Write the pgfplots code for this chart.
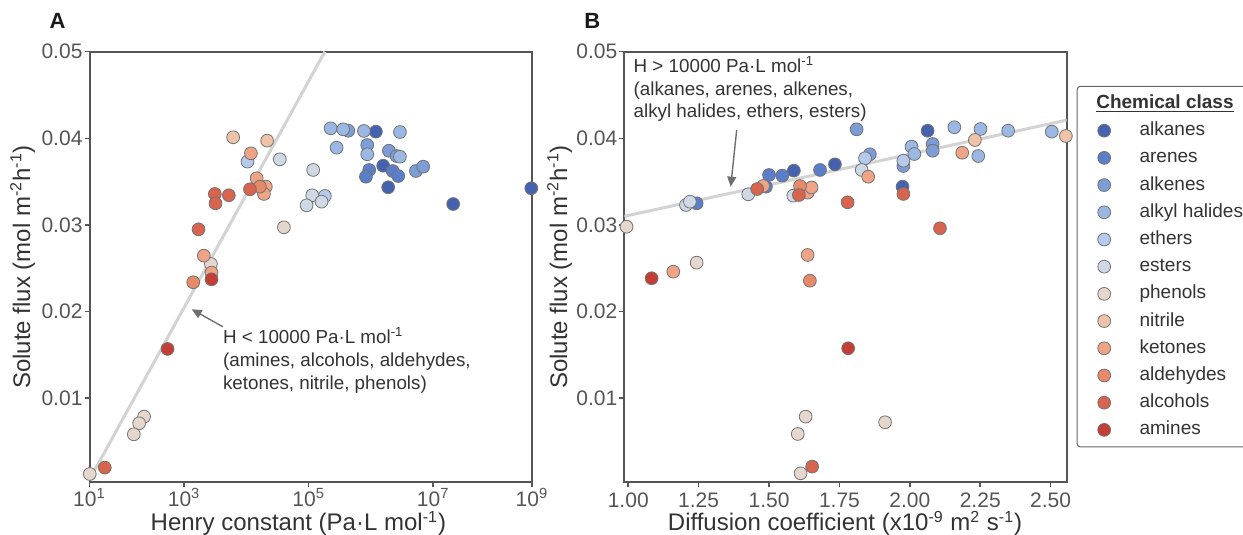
\documentclass[border=0pt]{standalone}
\usepackage{fontspec}
\setmainfont{Liberation Sans}
\usepackage{pgfplots}
\pgfplotsset{compat=1.18}
\usetikzlibrary{arrows.meta}

\definecolor{cAlkanes}{HTML}{4562B0}
\definecolor{cArenes}{HTML}{5B7ECA}
\definecolor{cAlkenes}{HTML}{7C9DD6}
\definecolor{cAlkyl}{HTML}{9AB8E3}
\definecolor{cEthers}{HTML}{B5CAEC}
\definecolor{cEsters}{HTML}{CFD8E5}
\definecolor{cPhenols}{HTML}{E5D7CD}
\definecolor{cNitrile}{HTML}{EFC3AA}
\definecolor{cKetones}{HTML}{EFA486}
\definecolor{cAldehydes}{HTML}{E78A6A}
\definecolor{cAlcohols}{HTML}{D9644E}
\definecolor{cAmines}{HTML}{C43E36}
\definecolor{axisgray}{HTML}{555555}
\definecolor{textgray}{HTML}{333333}
\definecolor{tickgray}{HTML}{555555}
\definecolor{fitgray}{HTML}{D3D3D3}
\definecolor{arrowgray}{HTML}{6E6E6E}

\tikzset{
  ann/.style={font=\fontsize{9.4}{11.3}\selectfont, text=textgray, inner sep=0pt, anchor=base west},
  panelletter/.style={font=\fontsize{11}{13}\selectfont\bfseries, text=black!90, anchor=center},
}
\pgfplotsset{
  panel/.style={
    scale only axis, height=215.3pt,
    axis line style={axisgray, line width=1pt},
    tick style={axisgray, line width=0.8pt},
    tick align=outside, major tick length=2.5pt,
    xtick pos=bottom, ytick pos=left,
    ymin=0.0003, ymax=0.05,
    scaled y ticks=false, scaled x ticks=false,
    ytick={0.01,0.02,0.03,0.04,0.05},
    yticklabels={0.01,0.02,0.03,0.04,0.05},
    tick label style={font=\fontsize{10.5}{12}\selectfont, text=tickgray},
    yticklabel style={xshift=2.5pt},
    label style={font=\fontsize{12}{14}\selectfont, text=textgray},
    /pgf/number format/assume math mode=true,
    clip=true,
  },
  cls/.style={only marks, mark=*, mark size=3.2pt, color=#1,
    mark options={fill=#1, draw=black!55, line width=0.4pt}},
  fit/.style={no marks, fitgray, line width=1.5pt},
}

\begin{document}
\begin{tikzpicture}

% ---------------- Panel A ----------------
\begin{axis}[panel,
  at={(44.75pt,26.35pt)}, anchor=south west, width=221.25pt,
  xmode=log, xmin=30.2, xmax=3.855e8,
  xtick={30.2,1e3,1e5,1e7,3.855e8},
  xticklabels={10\textsuperscript{1},10\textsuperscript{3},10\textsuperscript{5},10\textsuperscript{7},10\textsuperscript{9}},
  xticklabel style={yshift=3pt, text depth=0pt},
  xlabel={Henry constant (Pa·L mol\textsuperscript{-1})},
  ylabel={Solute flux (mol m\textsuperscript{-2}h\textsuperscript{-1})},
  xlabel style={at={(axis description cs:0.472,-0.0899)}, anchor=center, inner ysep=0pt, yshift=-1.2pt},
  ylabel style={at={(axis description cs:-0.151,0.5)}, anchor=center},
  extra description/.code={\node[panelletter] at (axis description cs:-0.0723,1.0725) {A};},
]
\addplot[fit] coordinates {(30.2,0.00061) (1.815e5,0.05)};

\addplot[cls=cAlkanes] coordinates {(1.20e6,0.04077) (1.57e6,0.03684) (1.89e6,0.03435) (2.09e7,0.03242) (3.75e8,0.03424)};
\addplot[cls=cArenes] coordinates {(9.38e5,0.03635) (2.23e6,0.03623) (2.74e6,0.03565) (8.30e5,0.03557)};
\addplot[cls=cAlkenes] coordinates {(4.32e5,0.04088) (8.71e5,0.03923) (1.94e6,0.03857) (2.58e6,0.03796) (5.27e6,0.03623) (6.90e6,0.03673)};
\addplot[cls=cAlkyl] coordinates {(2.25e5,0.04116) (3.58e5,0.04104) (7.71e5,0.04085) (2.92e6,0.04073) (2.81e5,0.03892) (8.71e5,0.03816) (2.92e6,0.03788)};
\addplot[cls=cEthers] coordinates {(1.04e4,0.03731) (1.82e5,0.03335)};
\addplot[cls=cEsters] coordinates {(3.44e4,0.03758) (1.18e5,0.03635) (1.14e5,0.03343) (9.25e4,0.03227) (1.61e5,0.03269)};
\addplot[cls=cPhenols] coordinates {(4.00e4,0.02973) (2.69e3,0.02550) (227.5,0.00788) (189.2,0.00711) (155.6,0.00584) (30.5,0.00126)};
\addplot[cls=cNitrile] coordinates {(6.12e3,0.04012) (2.15e4,0.03973)};
\addplot[cls=cKetones] coordinates {(1.18e4,0.03827) (1.46e4,0.03539) (2.05e4,0.03442) (1.91e4,0.03358) (2.07e3,0.02646) (2.75e3,0.02450)};
\addplot[cls=cAldehydes] coordinates {(1.64e4,0.03442) (1.40e3,0.02339)};
\addplot[cls=cAlcohols] coordinates {(1.14e4,0.03412) (3.11e3,0.03358) (5.22e3,0.03343) (3.19e3,0.03250) (1.70e3,0.02950) (53.2,0.00199)};
\addplot[cls=cAmines] coordinates {(2.75e3,0.02373) (541,0.01569)};

\draw[arrowgray, line width=0.7pt, -{Triangle[length=5pt,width=4.5pt]}]
  (axis description cs:0.301,0.3614) -- (axis description cs:0.231,0.4018);
\node[ann] at (axis description cs:0.301,0.3212) {H < 10000 Pa·L mol\textsuperscript{-1}};
\node[ann] at (axis description cs:0.301,0.2684) {(amines, alcohols, aldehydes,};
\node[ann] at (axis description cs:0.301,0.2159) {ketones, nitrile, phenols)};
\end{axis}

% ---------------- Panel B ----------------
\begin{axis}[panel,
  at={(312.15pt,26.35pt)}, anchor=south west, width=221.2pt,
  xmin=0.986, xmax=2.557,
  xtick={1,1.25,1.5,1.75,2,2.25,2.5},
  xticklabels={1.00,1.25,1.50,1.75,2.00,2.25,2.50},
  xticklabel style={yshift=0.8pt, text depth=0pt},
  xlabel={Diffusion coefficient (x10\textsuperscript{-9} m\textsuperscript{2} s\textsuperscript{-1})},
  ylabel={Solute flux (mol m\textsuperscript{-2}h\textsuperscript{-1})},
  xlabel style={at={(axis description cs:0.499,-0.0899)}, anchor=center, inner ysep=0pt, yshift=-1.2pt},
  ylabel style={at={(axis description cs:-0.146,0.5)}, anchor=center},
  extra description/.code={\node[panelletter] at (axis description cs:-0.0723,1.0725) {B};},
  legend image code/.code={\draw[#1, /tikz/every mark/.append style={draw=none}] plot coordinates {(0pt,0pt)};},
  legend cell align=left,
  legend style={at={(axis description cs:1.0226,0.9204)}, anchor=north west,
    draw=black!60, line width=0.5pt, rounded corners=1.5pt,
    inner xsep=10.3pt, inner ysep=4pt,
    font=\fontsize{9.5}{11}\selectfont, text=textgray,
    row sep=4.6pt, column sep=12.5pt,
    nodes={inner xsep=2pt, inner ysep=0pt, text height=7pt, text depth=2pt}},
]
\addlegendimage{empty legend}
\addlegendentry{\hspace*{-21.65pt}\textbf{\underline{Chemical class}}}

\addplot[fit, forget plot] coordinates {(0.986,0.0310) (2.557,0.0421)};

\addplot[cls=cAlkanes] coordinates {(2.063,0.04088) (1.974,0.03442) (1.734,0.03700) (1.588,0.03627)};
\addlegendentry{alkanes}
\addplot[cls=cArenes] coordinates {(1.243,0.03250) (1.489,0.03442) (1.500,0.03577) (1.547,0.03569) (1.681,0.03635)};
\addlegendentry{arenes}
\addplot[cls=cAlkenes] coordinates {(1.811,0.04104) (1.858,0.03816) (2.081,0.03935) (2.081,0.03857) (1.977,0.03681)};
\addlegendentry{alkenes}
\addplot[cls=cAlkyl] coordinates {(2.158,0.04128) (2.251,0.04108) (2.349,0.04088) (2.504,0.04077) (2.243,0.03796) (2.006,0.03904) (2.016,0.03819)};
\addlegendentry{alkyl halides}
\addplot[cls=cEthers] coordinates {(1.841,0.03770) (1.977,0.03742)};
\addlegendentry{ethers}
\addplot[cls=cEsters] coordinates {(1.205,0.03231) (1.219,0.03269) (1.426,0.03354) (1.586,0.03338) (1.829,0.03635)};
\addlegendentry{esters}
\addplot[cls=cPhenols] coordinates {(0.994,0.02980) (1.243,0.02565) (1.630,0.00788) (1.602,0.00588) (1.912,0.00723) (1.612,0.00134)};
\addlegendentry{phenols}
\addplot[cls=cNitrile] coordinates {(2.231,0.03981) (2.554,0.04027)};
\addlegendentry{nitrile}
\addplot[cls=cKetones] coordinates {(1.479,0.03450) (1.637,0.03373) (1.651,0.03433) (1.852,0.03557) (2.186,0.03834) (1.160,0.02461) (1.637,0.02654)};
\addlegendentry{ketones}
\addplot[cls=cAldehydes] coordinates {(1.610,0.03450) (1.645,0.02357)};
\addlegendentry{aldehydes}
\addplot[cls=cAlcohols] coordinates {(1.458,0.03415) (1.606,0.03346) (1.779,0.03262) (1.977,0.03358) (2.107,0.02962) (1.653,0.00211)};
\addlegendentry{alcohols}
\addplot[cls=cAmines] coordinates {(1.083,0.02385) (1.781,0.01577)};
\addlegendentry{amines}

\draw[arrowgray, line width=0.7pt, -{Triangle[length=5pt,width=4.5pt]}]
  (axis description cs:0.254,0.818) -- (axis description cs:0.2405,0.6865);
\node[ann] at (axis description cs:0.0203,0.9512) {H > 10000 Pa·L mol\textsuperscript{-1}};
\node[ann] at (axis description cs:0.0203,0.8990) {(alkanes, arenes, alkenes,};
\node[ann] at (axis description cs:0.0203,0.8467) {alkyl halides, ethers, esters)};
\end{axis}

\pgfresetboundingbox
\useasboundingbox (0,0) rectangle (621.5pt,267.5pt);
\end{tikzpicture}
\end{document}
